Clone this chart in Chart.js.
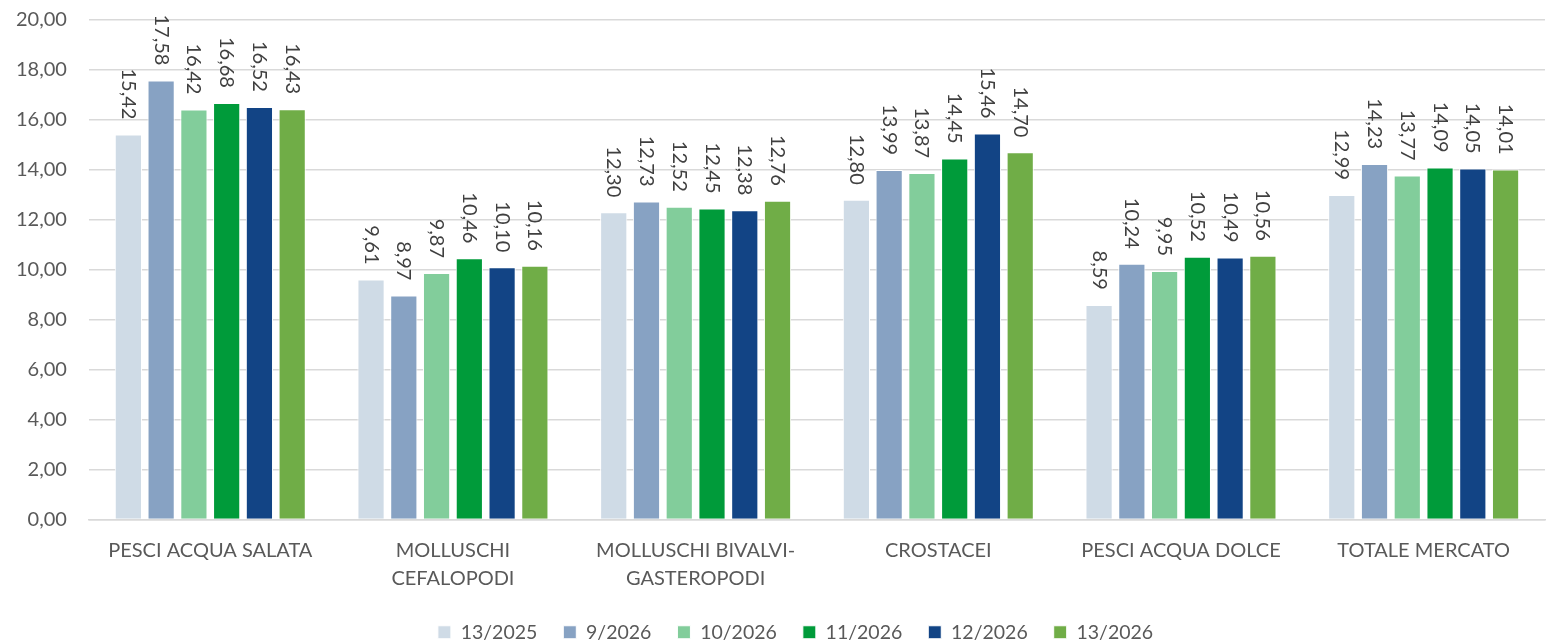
<!DOCTYPE html>
<html><head><meta charset="utf-8">
<script src="https://cdn.jsdelivr.net/npm/chart.js@4"></script>
<style>html,body{margin:0;padding:0;background:#fff;overflow:hidden;}#wrap{position:absolute;left:-6px;top:-14px;width:1553px;height:666px;}</style>
</head><body><div id="wrap"><canvas id="c"></canvas></div>
<script>
const categories = ["PESCI ACQUA SALATA", ["MOLLUSCHI","CEFALOPODI"], ["MOLLUSCHI BIVALVI-","GASTEROPODI"], "CROSTACEI", "PESCI ACQUA DOLCE", "TOTALE MERCATO"];
const seriesNames = ["13/2025","9/2026","10/2026","11/2026","12/2026","13/2026"];
const s13_2025 = [15.42, 9.61, 12.30, 12.80, 8.59, 12.99];
const s9_2026  = [17.58, 8.97, 12.73, 13.99, 10.24, 14.23];
const s10_2026 = [16.42, 9.87, 12.52, 13.87, 9.95, 13.77];
const s11_2026 = [16.68, 10.46, 12.45, 14.45, 10.52, 14.09];
const s12_2026 = [16.52, 10.10, 12.38, 15.46, 10.49, 14.05];
const s13_2026 = [16.43, 10.16, 12.76, 14.70, 10.56, 14.01];
const colors = ["#CFDBE6","#87A2C3","#82CD9B","#009B3A","#124485","#70AD47"];
const allSeries = [s13_2025, s9_2026, s10_2026, s11_2026, s12_2026, s13_2026];
const FONT = "Lato, 'Open Sans', sans-serif";
const fmt = v => v.toFixed(2).replace('.', ',');

const labelPlugin = {
  id: 'vlabels',
  afterLayout(chart) {
    if (chart.legend) { chart.legend.left += 26; chart.legend.right += 26; }
  },
  afterDatasetsDraw(chart) {
    const ctx = chart.ctx;
    ctx.save();
    ctx.font = "20px " + FONT;
    ctx.fillStyle = "#404040";
    chart.data.datasets.forEach((ds, di) => {
      const meta = chart.getDatasetMeta(di);
      meta.data.forEach((bar, i) => {
        ctx.save();
        ctx.translate(bar.x, bar.y - 15);
        ctx.rotate(Math.PI / 2);
        ctx.textAlign = 'right';
        ctx.textBaseline = 'middle';
        ctx.fillText(fmt(ds.data[i]), 0, 0);
        ctx.restore();
      });
    });
    ctx.restore();
  }
};

new Chart(document.getElementById('c'), {
  type: 'bar',
  data: {
    labels: categories,
    datasets: seriesNames.map((n, k) => ({
      label: n, data: allSeries[k], backgroundColor: colors[k],
      borderColor: '#ffffff', borderWidth: 1,
      barPercentage: 0.83, categoryPercentage: 0.81
    }))
  },
  options: {
    responsive: true, maintainAspectRatio: false, animation: false,
    layout: { padding: { left: 0, right: 2, top: 0, bottom: 0 } },
    plugins: {
      legend: { position: 'bottom',
        labels: { font: { size: 19.5, family: FONT }, color: '#595959', boxWidth: 13, boxHeight: 13, padding: 26 } },
      tooltip: { enabled: false }
    },
    scales: {
      y: { min: 0, max: 20,
        ticks: { stepSize: 2, callback: v => fmt(v), font: { size: 20, family: FONT }, color: '#595959', padding: 22 },
        grid: { color: '#D9D9D9', lineWidth: 1.5, drawTicks: false },
        border: { display: false } },
      x: { ticks: { font: { size: 20, family: FONT, lineHeight: 1.4 }, color: '#595959', padding: 9 },
        grid: { display: false },
        border: { color: '#D9D9D9', width: 1.5 },
        afterFit: s => { s.height = 77; } }
    }
  },
  plugins: [labelPlugin]
});
</script></body></html>
